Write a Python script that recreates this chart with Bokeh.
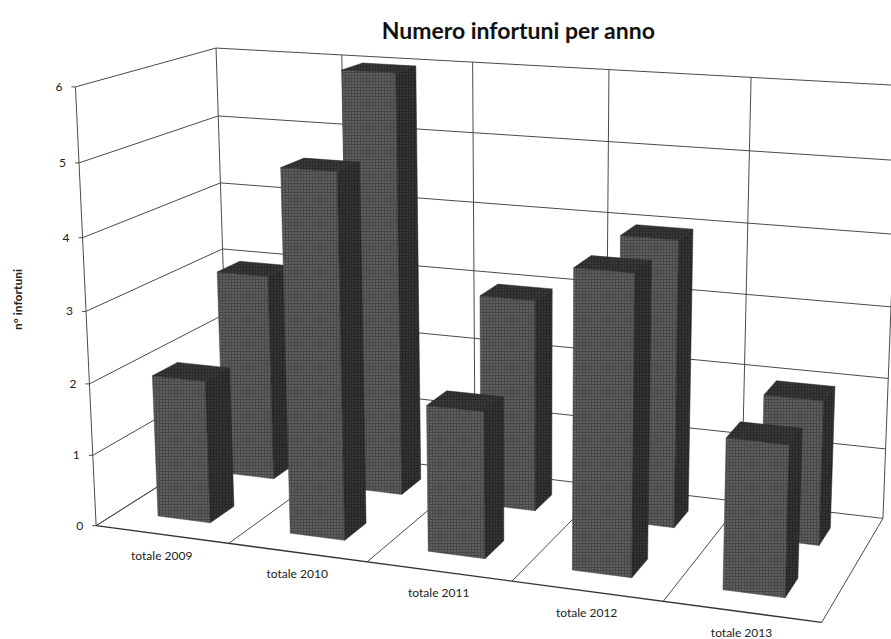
import numpy as np
from bokeh.plotting import figure
from bokeh.models import Range1d
from bokeh.core.properties import value
from bokeh.embed import file_html
from bokeh.resources import INLINE

title_text = "Numero infortuni per anno"
axis_title = "n\u00b0 infortuni"
categories = ["totale 2009", "totale 2010", "totale 2011", "totale 2012", "totale 2013"]
front_values = [2, 5, 2, 4, 2]
back_values = [3, 6, 3, 4, 2]
value_ticks = [0, 1, 2, 3, 4, 5, 6]

# camera calibration: (category, depth, value) -> page pixel
calib = [
    ((0,0,0),(96,524)),((1,0,0),(229,544)),((2,0,0),(367,563)),((3,0,0),(511,581)),
    ((4,0,0),(662,601)),((5,0,0),(821,623)),
    ((0,0,1),(92,453)),((0,0,2),(89,382)),((0,0,3),(86,311)),((0,0,4),(82,237)),
    ((0,0,5),(78,162)),((0,0,6),(75,87)),
    ((0,1,6),(215,47)),((1,1,6),(342,56)),((2,1,6),(473,61)),((3,1,6),(609,69)),
    ((4,1,6),(753,77)),((5,1,6),(896,84)),
    ((0,1,5),(217,116)),((0,1,4),(219,183)),((0,1,3),(222,249)),
    ((5,1,0),(882,517)),((5,1,1),(885,448)),((5,1,2),(889,378)),
]
A = []
for (a, b, c), (px, py) in calib:
    A.append([a, b, c, 1, 0, 0, 0, 0, -px*a, -px*b, -px*c, -px])
    A.append([0, 0, 0, 0, a, b, c, 1, -py*a, -py*b, -py*c, -py])
P = np.linalg.svd(np.array(A, float))[2][-1].reshape(3, 4)

def proj(u, z, v):
    h = P @ np.array([u, z, v, 1.0])
    return h[0]/h[2], h[1]/h[2]

GRID = "#4a4a4a"
p = figure(width=891, height=639, output_backend="svg", toolbar_location=None,
           x_range=Range1d(0, 891), y_range=Range1d(639, 0), min_border=0,
           outline_line_color=None, background_fill_color="white")
p.axis.visible = False
p.grid.visible = False

def seg(a, b, w=1.0, c=GRID):
    x0, y0 = proj(*a); x1, y1 = proj(*b)
    p.line([x0, x1], [y0, y1], line_color=c, line_width=w)

n = len(categories)
vmax = value_ticks[-1]
for t in value_ticks:
    seg((0,0,t), (0,1,t))
    seg((0,1,t), (n,1,t))
    x, y = proj(0,0,t)
    p.line([x-4, x], [y, y], line_color=GRID, line_width=1)
    p.text([x-13], [y], text=[str(t)], text_font=value("Lato"), text_font_size="12px",
           text_align="right", text_baseline="middle", text_color="#222222")
for i in range(n+1):
    seg((i,1,0), (i,1,vmax))
    seg((i,0,0), (i,1,0))
seg((0,0,0), (0,0,vmax))
seg((0,0,0), (n,0,0), 1.3, "#333333")

U0, U1 = 0.30, 0.70
ZF = (0.16, 0.34)
ZB = (0.66, 0.84)

def bar(i, zr, val):
    u0, u1 = i+U0, i+U1
    z0, z1 = zr
    faces = [
        ([(u0,z0,0),(u1,z0,0),(u1,z0,val),(u0,z0,val)], "#484848", "#c8c8c8", 0.45),
        ([(u1,z0,0),(u1,z1,0),(u1,z1,val),(u1,z0,val)], "#262626", "#909090", 0.35),
        ([(u0,z0,val),(u1,z0,val),(u1,z1,val),(u0,z1,val)], "#2b2b2b", "#909090", 0.35),
    ]
    for pts, col, hc, ha in faces:
        q = [proj(*a) for a in pts]
        p.patch([a[0] for a in q], [a[1] for a in q], fill_color=col, line_color=col, line_width=0.5,
                hatch_pattern="dot", hatch_color=hc, hatch_alpha=ha, hatch_scale=3)

for i in range(n):
    bar(i, ZB, back_values[i])
for i in range(n):
    bar(i, ZF, front_values[i])

for i, c in enumerate(categories):
    x, y = proj(i+0.5, 0, 0)
    p.text([x], [y+21], text=[c], text_font=value("Lato"), text_font_size="12px",
           text_align="center", text_baseline="middle", text_color="#222222")

p.text([518], [29], text=[title_text], text_font=value("Lato"), text_font_size="23px",
       text_font_style="bold", text_align="center", text_baseline="middle", text_color="#111111")
p.text([17], [299], text=[axis_title], text_font=value("Lato"), text_font_size="12px", angle=np.pi/2,
       text_font_style="bold", text_align="center", text_baseline="middle", text_color="#222222")

open("out.html", "w").write(file_html(p, INLINE))
